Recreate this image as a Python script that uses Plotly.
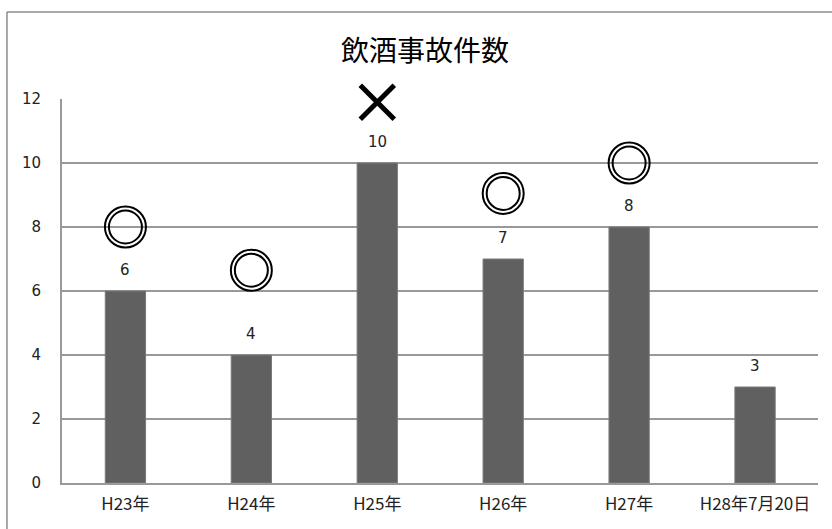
import plotly.graph_objects as go

# 飲酒事故件数 by year
categories = ["H23年", "H24年", "H25年", "H26年", "H27年", "H28年7月20日"]
counts = [6, 4, 10, 7, 8, 3]

# evaluation marks placed above the bars (◎ = double circle, × = cross)
circle_cats = ["H23年", "H24年", "H26年", "H27年"]
circle_y = [8, 6.65, 9.05, 10]
cross_cats = ["H25年"]
cross_y = [11.9]

y_ticks = [0, 2, 4, 6, 8, 10, 12]

GRID = "#999999"
BAR = "#606060"
FONT = "DejaVu Sans, Verdana, sans-serif"
CJK = "Noto Sans CJK JP, sans-serif"

fig = go.Figure()

fig.add_trace(go.Bar(
    x=categories, y=counts, width=0.32,
    marker=dict(color=BAR, line=dict(color="#7a7a7a", width=1)),
    hoverinfo="skip", showlegend=False,
))

# double circle: two concentric open rings
for size in (41, 33):
    fig.add_trace(go.Scatter(
        x=circle_cats, y=circle_y, mode="markers",
        marker=dict(symbol="circle-open", size=size, color="black",
                    line=dict(color="black", width=2)),
        hoverinfo="skip", showlegend=False, cliponaxis=False,
    ))

fig.add_trace(go.Scatter(
    x=cross_cats, y=cross_y, mode="markers",
    marker=dict(symbol="x-thin-open", size=34, color="black",
                line=dict(color="black", width=5)),
    hoverinfo="skip", showlegend=False, cliponaxis=False,
))

# value labels above each bar
for c, v in zip(categories, counts):
    fig.add_annotation(
        x=c, y=v, text=str(v), showarrow=False,
        yanchor="bottom", yshift=10,
        font=dict(family=FONT, size=15, color="#222222"),
    )

# chart frame
fig.add_shape(type="line", xref="paper", yref="paper",
              x0=-0.0728, x1=-0.0728, y0=1.2266, y1=-0.3,
              line=dict(color="#8c8c8c", width=1.5))
fig.add_shape(type="line", xref="paper", yref="paper",
              x0=-0.0728, x1=1.2, y0=1.2266, y1=1.2266,
              line=dict(color="#8c8c8c", width=1.5))

fig.update_layout(
    width=832, height=529,
    margin=dict(l=62, r=14, t=99, b=46),
    paper_bgcolor="white", plot_bgcolor="white",
    title=dict(text="飲酒事故件数", x=425 / 832, xanchor="center",
               y=1 - 51 / 529, yanchor="middle",
               font=dict(family=CJK, size=28, color="black")),
    bargap=0.68,
    xaxis=dict(
        showline=True, linecolor=GRID, linewidth=2,
        showgrid=False, ticks="outside", ticklen=5, tickcolor="rgba(0,0,0,0)",
        tickfont=dict(family=CJK, size=17, color="#222222"),
    ),
    yaxis=dict(
        range=[0, 12], tickvals=y_ticks,
        showgrid=True, gridcolor=GRID, gridwidth=2,
        showline=True, linecolor=GRID, linewidth=2,
        zeroline=False,
        ticks="outside", ticklen=16, tickcolor="rgba(0,0,0,0)",
        tickfont=dict(family=FONT, size=15, color="#222222"),
    ),
)

fig.write_html("out.html")
